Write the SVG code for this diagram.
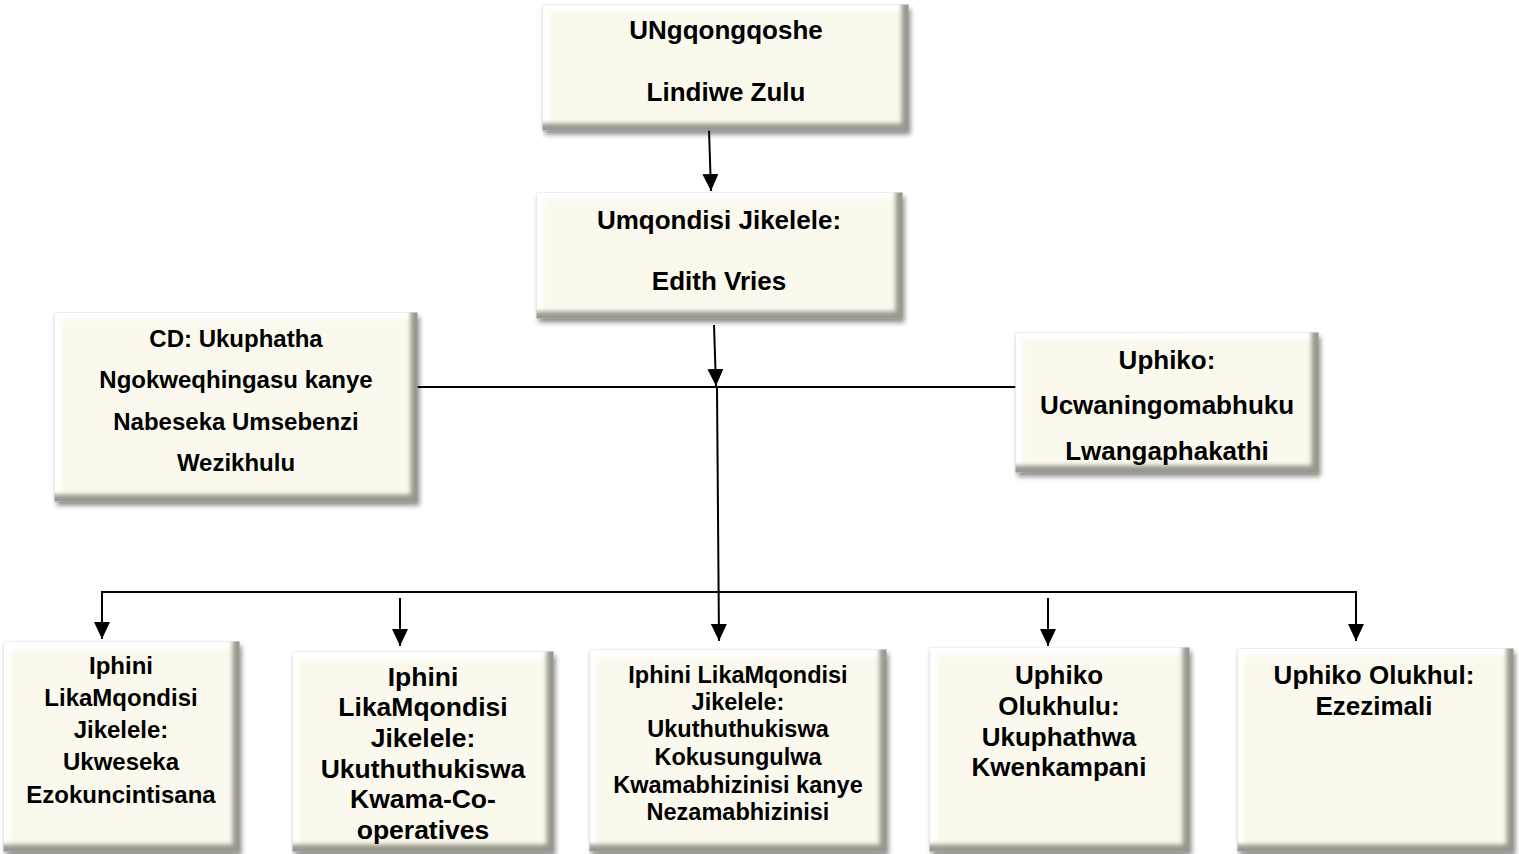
<svg xmlns="http://www.w3.org/2000/svg" width="1519" height="854" viewBox="0 0 1519 854">
<style>
  .box { fill: #FBF9EE; stroke: #c4c2b8; stroke-width: 1; filter: url(#bevel); }
  .t { font-family: "Liberation Sans", Arial, sans-serif; font-weight: bold; fill: #000; text-anchor: middle; }
  .conn { stroke: #000; stroke-width: 2; fill: none; }
  .arr { marker-end: url(#ah); }
</style>
<defs>
  <filter id="bevel" x="-4%" y="-6%" width="112%" height="118%" color-interpolation-filters="sRGB">
    <feGaussianBlur in="SourceAlpha" stdDeviation="2.5" result="blur"/>
    <feOffset in="blur" dx="2" dy="4" result="ob"/>
    <feFlood flood-color="#000" flood-opacity="0.45"/>
    <feComposite in2="ob" operator="in" result="shadow"/>
    <feOffset in="SourceAlpha" dx="-7" dy="-7" result="o1"/>
    <feGaussianBlur in="o1" stdDeviation="2" result="o1b"/>
    <feComposite in="SourceAlpha" in2="o1b" operator="out" result="br"/>
    <feFlood flood-color="#9a988e"/>
    <feComposite in2="br" operator="in" result="brc"/>
    <feOffset in="SourceAlpha" dx="7" dy="7" result="o2"/>
    <feGaussianBlur in="o2" stdDeviation="2" result="o2b"/>
    <feComposite in="SourceAlpha" in2="o2b" operator="out" result="tl"/>
    <feFlood flood-color="#ffffff"/>
    <feComposite in2="tl" operator="in" result="tlc"/>
    <feMerge>
      <feMergeNode in="shadow"/>
      <feMergeNode in="SourceGraphic"/>
      <feMergeNode in="tlc"/>
      <feMergeNode in="brc"/>
    </feMerge>
  </filter>
  <marker id="ah" viewBox="0 0 17 16" refX="17" refY="8" markerWidth="17" markerHeight="16" markerUnits="userSpaceOnUse" orient="auto">
    <path d="M0,0 L17,8 L0,16 z" fill="#000"/>
  </marker>
</defs>

<g id="connectors">
  <line class="conn arr" x1="709" y1="130" x2="711" y2="191"/>
  <line class="conn arr" x1="714" y1="325" x2="716" y2="386"/>
  <line class="conn" x1="416" y1="387" x2="1016" y2="387"/>
  <line class="conn arr" x1="717" y1="387" x2="719" y2="641"/>
  <line class="conn" x1="101" y1="592" x2="1357" y2="592"/>
  <line class="conn arr" x1="102" y1="591" x2="102" y2="639"/>
  <line class="conn arr" x1="400" y1="598" x2="400" y2="646"/>
  <line class="conn arr" x1="1048" y1="598" x2="1048" y2="646"/>
  <line class="conn arr" x1="1356" y1="591" x2="1356" y2="641"/>
</g>

<g id="minister">
  <rect class="box" x="543" y="5" width="365" height="125"/>
  <text class="t" font-size="26" x="726" y="39">UNgqongqoshe</text>
  <text class="t" font-size="26" x="726" y="101">Lindiwe Zulu</text>
</g>

<g id="dg">
  <rect class="box" x="537" y="193" width="365" height="125"/>
  <text class="t" font-size="26" x="719" y="229">Umqondisi Jikelele:</text>
  <text class="t" font-size="26" x="719" y="290">Edith Vries</text>
</g>

<g id="cd">
  <rect class="box" x="55" y="313" width="362" height="188"/>
  <text class="t" font-size="24" x="236" y="347">CD: Ukuphatha</text>
  <text class="t" font-size="24" x="236" y="388">Ngokweqhingasu kanye</text>
  <text class="t" font-size="24" x="236" y="430">Nabeseka Umsebenzi</text>
  <text class="t" font-size="24" x="236" y="471">Wezikhulu</text>
</g>

<g id="audit">
  <rect class="box" x="1016" y="333" width="302" height="139"/>
  <text class="t" font-size="26" x="1167" y="369">Uphiko:</text>
  <text class="t" font-size="26" x="1167" y="414">Ucwaningomabhuku</text>
  <text class="t" font-size="26" x="1167" y="460">Lwangaphakathi</text>
</g>

<g id="ddg-competition">
  <rect class="box" x="4" y="642" width="235" height="209"/>
  <text class="t" font-size="24" x="121" y="674">Iphini</text>
  <text class="t" font-size="24" x="121" y="706">LikaMqondisi</text>
  <text class="t" font-size="24" x="121" y="738">Jikelele:</text>
  <text class="t" font-size="24" x="121" y="770">Ukweseka</text>
  <text class="t" font-size="24" x="121" y="803">Ezokuncintisana</text>
</g>

<g id="ddg-coops">
  <rect class="box" x="293" y="652" width="260" height="199"/>
  <text class="t" font-size="26.5" x="423" y="686">Iphini</text>
  <text class="t" font-size="26.5" x="423" y="716">LikaMqondisi</text>
  <text class="t" font-size="26.5" x="423" y="747">Jikelele:</text>
  <text class="t" font-size="26.5" x="423" y="778">Ukuthuthukiswa</text>
  <text class="t" font-size="26.5" x="423" y="808">Kwama-Co-</text>
  <text class="t" font-size="26.5" x="423" y="839">operatives</text>
</g>

<g id="ddg-enterprise">
  <rect class="box" x="590" y="650" width="296" height="201"/>
  <text class="t" font-size="23.5" x="738" y="683">Iphini LikaMqondisi</text>
  <text class="t" font-size="23.5" x="738" y="710">Jikelele:</text>
  <text class="t" font-size="23.5" x="738" y="737">Ukuthuthukiswa</text>
  <text class="t" font-size="23.5" x="738" y="765">Kokusungulwa</text>
  <text class="t" font-size="23.5" x="738" y="793">Kwamabhizinisi kanye</text>
  <text class="t" font-size="23.5" x="738" y="820">Nezamabhizinisi</text>
</g>

<g id="chief-corporate">
  <rect class="box" x="930" y="648" width="259" height="203"/>
  <text class="t" font-size="26" x="1059" y="684">Uphiko</text>
  <text class="t" font-size="26" x="1059" y="715">Olukhulu:</text>
  <text class="t" font-size="26" x="1059" y="746">Ukuphathwa</text>
  <text class="t" font-size="26" x="1059" y="776">Kwenkampani</text>
</g>

<g id="chief-finance">
  <rect class="box" x="1238" y="649" width="275" height="202"/>
  <text class="t" font-size="26" x="1374" y="684">Uphiko Olukhul:</text>
  <text class="t" font-size="26" x="1374" y="715">Ezezimali</text>
</g>
</svg>
